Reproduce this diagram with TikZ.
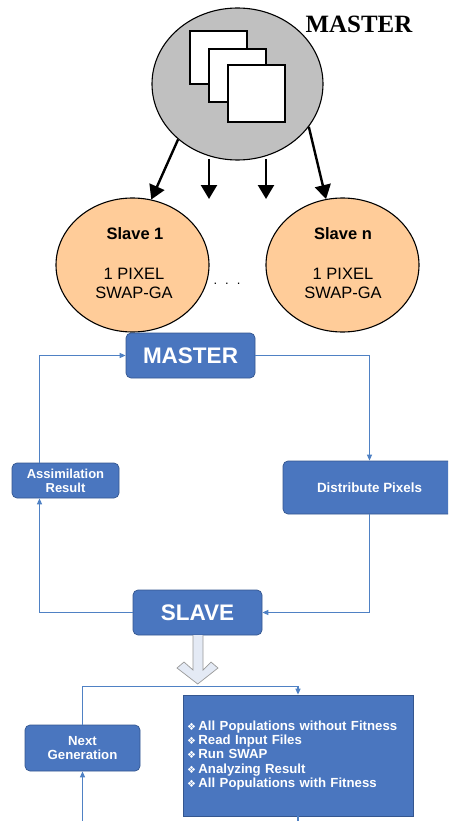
\documentclass[tikz,border=0pt]{standalone}
\usepackage{fontspec}
\setmainfont{Liberation Sans}
\newfontfamily\serifbf{Liberation Serif}[Scale=1]
\newfontfamily\djv{DejaVu Sans}
\usetikzlibrary{shapes.geometric,arrows.meta}
\definecolor{boxblue}{HTML}{4A76BF}
\definecolor{boxedge}{HTML}{34568F}
\definecolor{flowblue}{HTML}{4F81C4}
\definecolor{peach}{HTML}{FFCC99}
\definecolor{greyfill}{HTML}{C0C0C0}
\definecolor{hollow}{HTML}{E4EAF5}
\newcommand{\fs}[1]{\fontsize{#1}{#1}\selectfont}
\newcommand{\bul}{{\djv\fs{10}❖}\hspace{2.5pt}}
\tikzset{
 x=1pt,y=-1pt,
 oval/.style={draw=black,line width=1.1pt,shape=ellipse,inner sep=0pt,text=black,align=center},
 sheet/.style={draw=black,fill=white,line width=1.1pt,minimum width=57pt,minimum height=53pt,inner sep=0pt},
 bluebox/.style={draw=boxedge,fill=boxblue,line width=.7pt,rounded corners=5pt,text=white,inner sep=0pt,align=center,font=\bfseries},
 flow/.style={draw=flowblue,line width=1.3pt,-{Triangle[length=6pt,width=5pt]}},
 flowline/.style={draw=flowblue,line width=1.3pt},
 heavy/.style={draw=black,line width=2.4pt,-{Triangle[length=14pt,width=16pt]}},
}
\begin{document}
\begin{tikzpicture}
\clip (0,0) rectangle (448,821);
\node[oval,fill=greyfill,minimum width=171pt,minimum height=152pt] (em) at (237.5,84) {};
\node[sheet] (s1) at (218.5,57.5) {};
\node[sheet] (s2) at (237.5,75.5) {};
\node[sheet,minimum height=57pt] (s3) at (256.5,93.5) {};
\node[font=\serifbf\bfseries\fs{24.9},inner sep=0pt] (mt) at (359,24.5) {MASTER};
\node[oval,fill=peach,minimum width=153pt,minimum height=134pt] (sa) at (132.5,265) {};
\node[oval,fill=peach,minimum width=153pt,minimum height=134pt] (sb) at (342.5,265) {};
\node[font=\bfseries\fs{16.5},inner sep=0pt] (sat) at (135,234) {Slave 1};
\node[font=\bfseries\fs{16.5},inner sep=0pt] (sbt) at (343,234) {Slave n};
\node[font=\fs{16.5},inner sep=0pt,align=center] (sal) at (134,283.5) {1 PIXEL\\[2.5pt]SWAP-GA};
\node[font=\fs{16.5},inner sep=0pt,align=center] (sbl) at (343,283.5) {1 PIXEL\\[2.5pt]SWAP-GA};
\node[font=\fs{13},inner sep=0pt] (dots) at (227,284) {.\hspace{8pt}.\hspace{8pt}.};
\coordinate (c1) at (209,159);
\coordinate (c2) at (209,199);
\coordinate (c3) at (266,159);
\coordinate (c4) at (266,199);
\draw[heavy] (em.223) -- (sa.74);
\draw[heavy] (c1) -- (c2);
\draw[heavy] (c3) -- (c4);
\draw[heavy] (em.-31) -- (sb.104);

\node[bluebox,minimum width=129pt,minimum height=45pt,font=\bfseries\fs{22.5}] (mstr) at (190.5,355.5) {MASTER};
\node[bluebox,minimum width=107pt,minimum height=35pt,font=\bfseries\fs{13}] (assim) at (65.5,480.5) {Assimilation\\[1pt]Result};
\node[bluebox,minimum width=173pt,minimum height=53pt,font=\bfseries\fs{13.4}] (dist) at (369.5,487.5) {Distribute Pixels};
\node[bluebox,minimum width=129pt,minimum height=45pt,font=\bfseries\fs{22.5}] (slv) at (197.5,612.5) {SLAVE};
\node[bluebox,minimum width=115pt,minimum height=46pt,font=\bfseries\fs{13.2}] (nxt) at (82.5,748) {Next\\[1pt]Generation};
\node[bluebox,rounded corners=0pt,minimum width=230pt,minimum height=121pt,text width=222pt,align=left,font=\bfseries\fs{13.2}] (big) at (298,755.5) {%
\bul All Populations without Fitness\\[1.2pt]
\bul Read Input Files\\[1.2pt]
\bul Run SWAP\\[1.2pt]
\bul Analyzing Result\\[1.2pt]
\bul All Populations with Fitness};

\draw[flow] (mstr.east) -| (dist.north);
\draw[flow] (dist.south) |- (slv.east);
\draw[flow] (slv.west) -| ([xshift=-26pt]assim.south);
\draw[flow] ([xshift=-26pt]assim.north) |- (mstr.west);
\coordinate (join) at (190,686.5);
\draw[flow] (nxt.north) |- (join) -| (big.north);
\coordinate (bl) at (82.5,821);
\coordinate (br) at (298,821);
\draw[flow] (bl) -- (nxt.south);
\draw[flowline] (big.south) -- (br);
\draw[draw=gray!80,fill=hollow,line width=.7pt] (193,635) -- (193,670) -- (184,662) -- (177,668) -- (197.7,684) -- (218,668) -- (211,662) -- (203,670) -- (203,635);
\end{tikzpicture}
\end{document}
